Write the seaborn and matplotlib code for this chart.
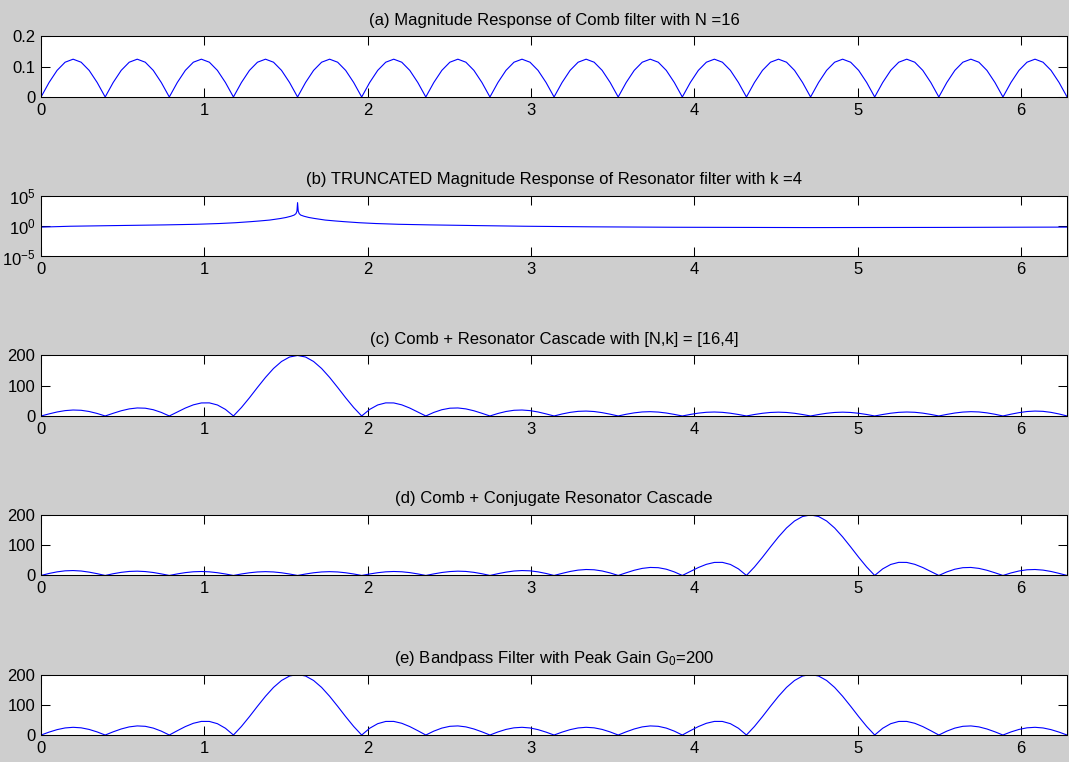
import numpy as np
import matplotlib
matplotlib.use("Agg")
import matplotlib.pyplot as plt
import seaborn as sns
from matplotlib.ticker import NullLocator

# frequency grid: 0 .. 2*pi, 129 samples (step pi/64)
omega = np.linspace(0, 2 * np.pi, 129)

# (a) comb filter magnitude, 16 identical lobes
comb_mag = [
    0, 0.048, 0.088, 0.115, 0.125, 0.115, 0.088, 0.048,
    0, 0.048, 0.088, 0.115, 0.125, 0.115, 0.088, 0.048,
    0, 0.048, 0.088, 0.115, 0.125, 0.115, 0.088, 0.048,
    0, 0.048, 0.088, 0.115, 0.125, 0.115, 0.088, 0.048,
    0, 0.048, 0.088, 0.115, 0.125, 0.115, 0.088, 0.048,
    0, 0.048, 0.088, 0.115, 0.125, 0.115, 0.088, 0.048,
    0, 0.048, 0.088, 0.115, 0.125, 0.115, 0.088, 0.048,
    0, 0.048, 0.088, 0.115, 0.125, 0.115, 0.088, 0.048,
    0, 0.048, 0.088, 0.115, 0.125, 0.115, 0.088, 0.048,
    0, 0.048, 0.088, 0.115, 0.125, 0.115, 0.088, 0.048,
    0, 0.048, 0.088, 0.115, 0.125, 0.115, 0.088, 0.048,
    0, 0.048, 0.088, 0.115, 0.125, 0.115, 0.088, 0.048,
    0, 0.048, 0.088, 0.115, 0.125, 0.115, 0.088, 0.048,
    0, 0.048, 0.088, 0.115, 0.125, 0.115, 0.088, 0.048,
    0, 0.048, 0.088, 0.115, 0.125, 0.115, 0.088, 0.048,
    0, 0.048, 0.088, 0.115, 0.125, 0.115, 0.088, 0.048,
    0,
]

# (b) truncated resonator, read on its own (non-uniform) grid
res_omega = [0.0, 0.18, 0.45, 0.76, 0.95, 1.09, 1.19, 1.28, 1.34, 1.40, 1.466,
             1.50, 1.53, 1.55, 1.561, 1.567, 1.5708, 1.575, 1.581, 1.59, 1.61,
             1.64, 1.676, 1.74, 1.80, 1.86, 1.95, 2.05, 2.19, 2.38, 2.67, 2.96,
             3.37, 3.87, 4.71, 5.55, 6.05, 6.2832]
res_mag = [0.72, 1.0, 1.28, 1.67, 2.1, 2.8, 3.8, 5.6, 7.5, 10.5, 19,
           28, 45, 70, 120, 300, 8000, 300, 120, 70, 45,
           28, 19, 10.5, 7.5, 5.6, 3.8, 2.8, 2.1, 1.67, 1.28, 1.0,
           0.8, 0.68, 0.6, 0.64, 0.7, 0.72]

# (c) comb + resonator cascade
cascade_mag = [
    0, 6.9, 13.2, 17.7, 19.7, 18.8, 14.8, 8.3,
    0, 8.9, 17.2, 23.4, 26.5, 25.7, 20.7, 11.8,
    0, 13.3, 26.2, 36.8, 43.1, 43.3, 36.4, 21.8,
    0, 28.0, 60.2, 94.4, 127.5, 157.0, 180.1, 194.9,
    200.0, 194.9, 180.1, 157.0, 127.5, 94.4, 60.2, 28.0,
    0, 21.8, 36.4, 43.3, 43.1, 36.8, 26.2, 13.3,
    0, 11.8, 20.7, 25.7, 26.5, 23.4, 17.2, 8.9,
    0, 8.3, 14.8, 18.8, 19.7, 17.7, 13.2, 6.9,
    0, 6.6, 11.9, 15.3, 16.2, 14.7, 11.0, 5.9,
    0, 5.7, 10.3, 13.3, 14.2, 12.9, 9.8, 5.2,
    0, 5.1, 9.4, 12.2, 13.1, 12.0, 9.1, 4.9,
    0, 4.9, 8.9, 11.6, 12.6, 11.6, 8.9, 4.8,
    0, 4.8, 8.9, 11.6, 12.6, 11.6, 8.9, 4.9,
    0, 4.9, 9.1, 12.0, 13.1, 12.2, 9.4, 5.1,
    0, 5.2, 9.8, 12.9, 14.2, 13.3, 10.3, 5.7,
    0, 5.9, 11.0, 14.7, 16.2, 15.3, 11.9, 6.6,
    0,
]

# (d) comb + conjugate resonator cascade
conj_cascade_mag = [
    0, 6.6, 11.9, 15.3, 16.2, 14.7, 11.0, 5.9,
    0, 5.7, 10.3, 13.3, 14.2, 12.9, 9.8, 5.2,
    0, 5.1, 9.4, 12.2, 13.1, 12.0, 9.1, 4.9,
    0, 4.9, 8.9, 11.6, 12.6, 11.6, 8.9, 4.8,
    0, 4.8, 8.9, 11.6, 12.6, 11.6, 8.9, 4.9,
    0, 4.9, 9.1, 12.0, 13.1, 12.2, 9.4, 5.1,
    0, 5.2, 9.8, 12.9, 14.2, 13.3, 10.3, 5.7,
    0, 5.9, 11.0, 14.7, 16.2, 15.3, 11.9, 6.6,
    0, 6.9, 13.2, 17.7, 19.7, 18.8, 14.8, 8.3,
    0, 8.9, 17.2, 23.4, 26.5, 25.7, 20.7, 11.8,
    0, 13.3, 26.2, 36.8, 43.1, 43.3, 36.4, 21.8,
    0, 28.0, 60.2, 94.4, 127.5, 157.0, 180.1, 194.9,
    200.0, 194.9, 180.1, 157.0, 127.5, 94.4, 60.2, 28.0,
    0, 21.8, 36.4, 43.3, 43.1, 36.8, 26.2, 13.3,
    0, 11.8, 20.7, 25.7, 26.5, 23.4, 17.2, 8.9,
    0, 8.3, 14.8, 18.8, 19.7, 17.7, 13.2, 6.9,
    0,
]

# (e) bandpass filter, peak gain 200
bandpass_mag = [
    0, 9.6, 17.8, 23.4, 25.5, 23.8, 18.5, 10.2,
    0, 10.6, 20.0, 26.9, 30.1, 28.8, 22.9, 12.9,
    0, 14.3, 27.9, 38.8, 45.0, 44.9, 37.5, 22.4,
    0, 28.4, 60.9, 95.1, 128.1, 157.4, 180.3, 195.0,
    200.0, 195.0, 180.3, 157.4, 128.1, 95.1, 60.9, 28.4,
    0, 22.4, 37.5, 44.9, 45.0, 38.8, 27.9, 14.3,
    0, 12.9, 22.9, 28.8, 30.1, 26.9, 20.0, 10.6,
    0, 10.2, 18.5, 23.8, 25.5, 23.4, 17.8, 9.6,
    0, 9.6, 17.8, 23.4, 25.5, 23.8, 18.5, 10.2,
    0, 10.6, 20.0, 26.9, 30.1, 28.8, 22.9, 12.9,
    0, 14.3, 27.9, 38.8, 45.0, 44.9, 37.5, 22.4,
    0, 28.4, 60.9, 95.1, 128.1, 157.4, 180.3, 195.0,
    200.0, 195.0, 180.3, 157.4, 128.1, 95.1, 60.9, 28.4,
    0, 22.4, 37.5, 44.9, 45.0, 38.8, 27.9, 14.3,
    0, 12.9, 22.9, 28.8, 30.1, 26.9, 20.0, 10.6,
    0, 10.2, 18.5, 23.8, 25.5, 23.4, 17.8, 9.6,
    0,
]

titles = [
    "(a) Magnitude Response of Comb filter with N =16",
    "(b) TRUNCATED Magnitude Response of Resonator filter with k =4",
    "(c) Comb + Resonator Cascade with [N,k] = [16,4]",
    "(d) Comb + Conjugate Resonator Cascade",
    "(e) Bandpass Filter with Peak Gain G$_0$=200",
]
x_ticks = [0, 1, 2, 3, 4, 5, 6]
comb_yticks = [0, 0.1, 0.2]
comb_yticklabels = ["0", "0.1", "0.2"]
res_yticks = [1e-5, 1e0, 1e5]
res_yticklabels = ["$10^{-5}$", "$10^{0}$", "$10^{5}$"]
gain_yticks = [0, 100, 200]
gain_yticklabels = ["0", "100", "200"]

GREY = "#cecece"
FS = 12

sns.set_theme(style="ticks", rc={
    "axes.edgecolor": "black",
    "axes.linewidth": 0.75,
    "xtick.color": "black",
    "ytick.color": "black",
    "text.color": "black",
})
plt.rcParams["font.family"] = ["Liberation Sans", "DejaVu Sans"]
plt.rcParams["mathtext.default"] = "regular"

fig = plt.figure(figsize=(10.69, 7.62), dpi=100, facecolor=GREY)

left, width, height = 0.0384, 0.9598, 0.0794
bottoms = [0.8727, 0.6634, 0.4541, 0.2448, 0.0354]

series = [
    (omega, comb_mag),
    (res_omega, res_mag),
    (omega, cascade_mag),
    (omega, conj_cascade_mag),
    (omega, bandpass_mag),
]

for i, (xs, ys) in enumerate(series):
    ax = fig.add_axes([left, bottoms[i], width, height])
    ax.set_facecolor("white")
    sns.lineplot(x=np.asarray(xs), y=np.asarray(ys), ax=ax, color="#0000ff",
                 linewidth=0.8)
    ax.set_xlim(0, 2 * np.pi)
    ax.set_xticks(x_ticks)
    ax.set_xticklabels([str(t) for t in x_ticks])
    if i == 0:
        ax.set_ylim(0, 0.2)
        ax.set_yticks(comb_yticks)
        ax.set_yticklabels(comb_yticklabels)
    elif i == 1:
        ax.set_yscale("log")
        ax.set_ylim(1e-5, 1e5)
        ax.set_yticks(res_yticks)
        ax.set_yticklabels(res_yticklabels)
        ax.yaxis.set_minor_locator(NullLocator())
    else:
        ax.set_ylim(0, 200)
        ax.set_yticks(gain_yticks)
        ax.set_yticklabels(gain_yticklabels)
    ax.tick_params(direction="in", top=True, right=True, length=6.5, width=0.75,
                   labelsize=FS, pad=4)
    ax.set_xlabel("")
    ax.set_ylabel("")
    ax.set_title(titles[i], fontsize=FS, pad=8.5)
    for s in ax.spines.values():
        s.set_linewidth(0.75)
        s.set_color("black")

fig.savefig("out.png", dpi=100, facecolor=fig.get_facecolor())
